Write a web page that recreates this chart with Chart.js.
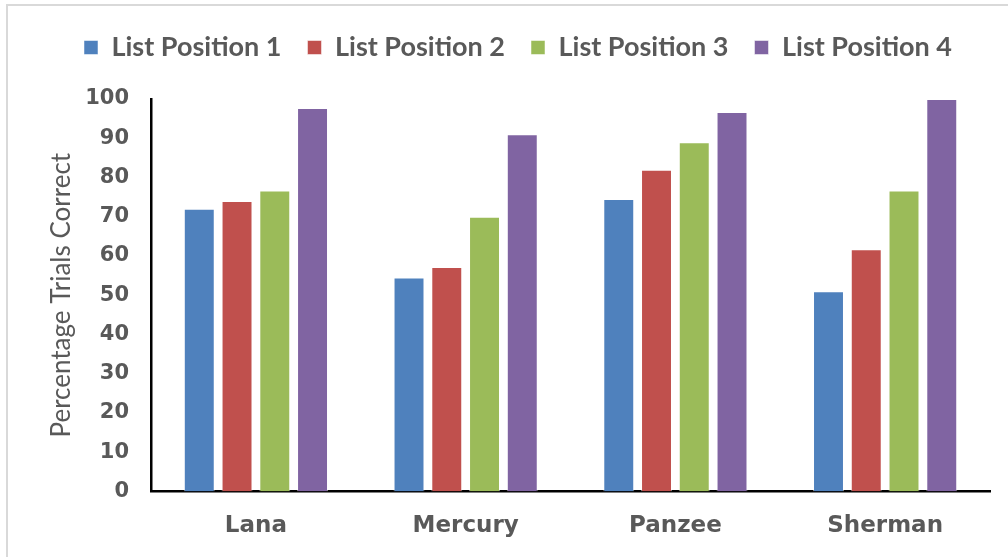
<!DOCTYPE html>
<html>
<head>
<meta charset="utf-8">
<script src="https://cdn.jsdelivr.net/npm/chart.js@4/dist/chart.umd.min.js"></script>
<style>
  html, body { margin: 0; padding: 0; background: #fff; overflow: hidden; }
  #wrap { position: relative; width: 1008px; height: 557px; }
  #moldura { position: absolute; left: 6px; top: 4px; width: 1100px; height: 700px; border-left: 2px solid #d9d9d9; border-top: 2px solid #d9d9d9; pointer-events: none; }
  canvas { position: absolute; left: 0; top: 0; }
</style>
</head>
<body>
<div id="wrap">
  <canvas id="grafico" width="1008" height="557"></canvas>
  <div id="moldura"></div>
</div>
<script>
// dados
const sujeitos = ['Lana', 'Mercury', 'Panzee', 'Sherman'];
const posicao1 = [72, 54.5, 74.5, 51];
const posicao2 = [74, 57.2, 82, 61.7];
const posicao3 = [76.7, 70, 89, 76.7];
const posicao4 = [97.7, 91, 96.7, 100];
const nomesSeries = ['List Position 1', 'List Position 2', 'List Position 3', 'List Position 4'];
const ticksY = [0, 10, 20, 30, 40, 50, 60, 70, 80, 90, 100];

const cores = ['#4F81BD', '#C0504D', '#9BBB59', '#8064A2'];
const series = [posicao1, posicao2, posicao3, posicao4];

// espaço extra abaixo da legenda
const espacoLegenda = {
  id: 'espacoLegenda',
  beforeInit(chart) {
    const fitOrig = chart.legend.fit;
    chart.legend.fit = function () {
      fitOrig.bind(chart.legend)();
      this.height += 28;
    };
  }
};

const ctx = document.getElementById('grafico').getContext('2d');

new Chart(ctx, {
  type: 'bar',
  data: {
    labels: sujeitos,
    datasets: series.map((valores, i) => ({
      label: nomesSeries[i],
      data: valores,
      backgroundColor: cores[i],
      borderColor: 'rgba(255,255,255,0.5)',
      borderWidth: 1,
      categoryPercentage: 0.72,
      barPercentage: 0.82
    }))
  },
  options: {
    responsive: false,
    animation: false,
    layout: { padding: { left: 46, right: 18, top: 8, bottom: -4 } },
    scales: {
      y: {
        min: 0,
        max: 100,
        afterBuildTicks: (scale) => { scale.ticks = ticksY.map(v => ({ value: v })); },
        grid: { display: false, drawTicks: false },
        border: { display: true, color: '#000', width: 2.5 },
        ticks: {
          color: '#595959',
          padding: 22,
          font: { family: 'DejaVu Sans', size: 21, weight: 'bold' }
        },
        title: {
          display: true,
          text: 'Percentage Trials Correct',
          color: '#595959',
          padding: { top: 0, bottom: -14 },
          font: { family: 'Lato', size: 26 }
        }
      },
      x: {
        grid: { display: false, drawTicks: false },
        border: { display: true, color: '#000', width: 2.5 },
        ticks: {
          color: '#595959',
          padding: 21,
          font: { family: 'DejaVu Sans', size: 23, weight: 'bold' }
        }
      }
    },
    plugins: {
      legend: {
        position: 'top',
        labels: {
          color: '#595959',
          boxWidth: 14,
          boxHeight: 14,
          padding: 26,
          font: { family: 'Lato', size: 27, weight: 'bold' }
        }
      },
      tooltip: { enabled: false }
    }
  },
  plugins: [espacoLegenda]
});
</script>
</body>
</html>
